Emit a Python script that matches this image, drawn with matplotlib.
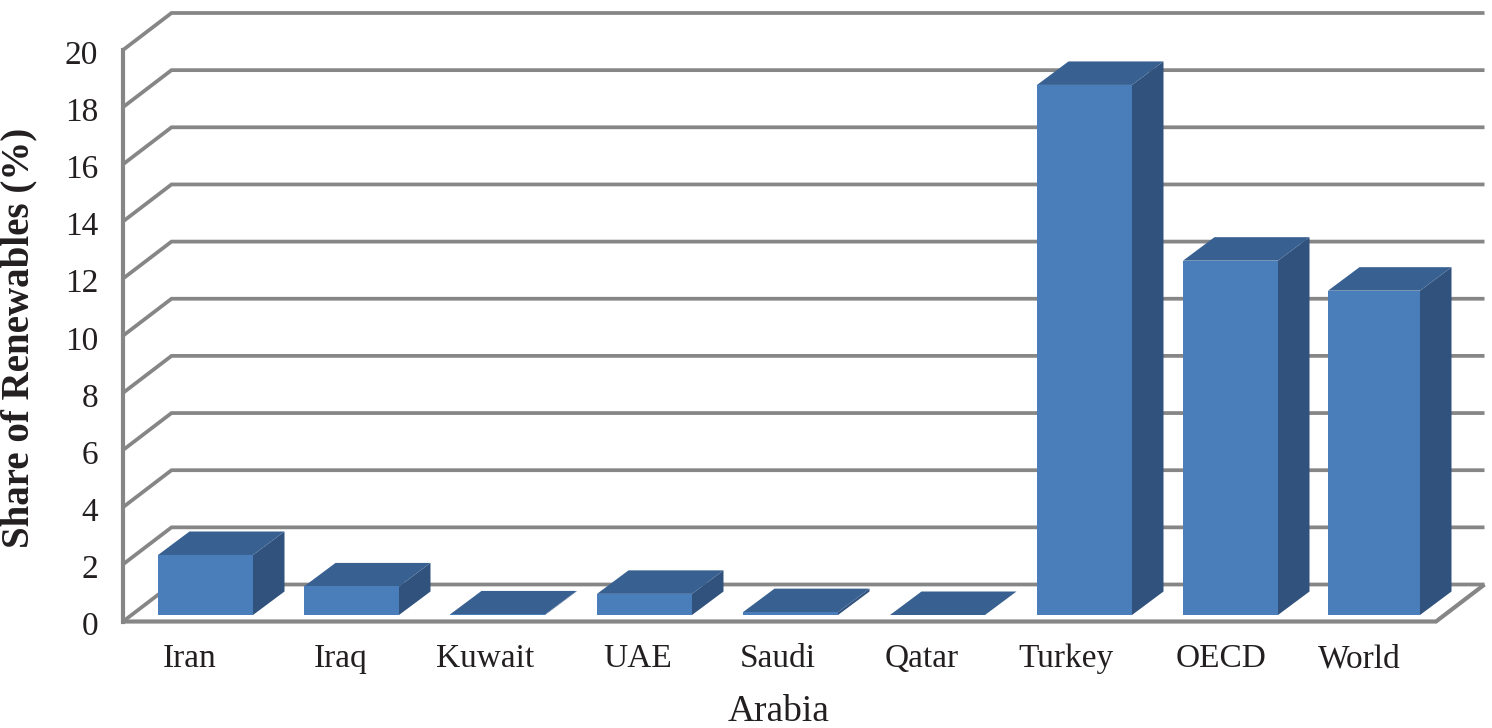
import matplotlib
matplotlib.use("Agg")
import matplotlib.pyplot as plt
from matplotlib.patches import Polygon
from matplotlib.transforms import ScaledTranslation

categories = ["Iran", "Iraq", "Kuwait", "UAE", "Saudi", "Qatar", "Turkey", "OECD", "World"]
shares = [2.1, 1.0, 0.02, 0.74, 0.1, 0.0, 18.55, 12.4, 11.35]
y_ticks = list(range(0, 21, 2))

W, H = 1492, 728
plt.rcParams["font.family"] = ["Liberation Serif", "DejaVu Serif"]
fig = plt.figure(figsize=(W / 100, H / 100), dpi=100)

# axes = front plane of the 3D box
L, R, B, T = 123, 1436, 621.5, 50
ax = fig.add_axes([L / W, 1 - B / H, (R - L) / W, (B - T) / H])
ppu_x = 146.3            # pixels per category
x0_px = 205.5            # centre of first bar
ax.set_xlim((L - x0_px) / ppu_x, (R - x0_px) / ppu_x)
ax.set_ylim(0, 20)
ppu_y = (B - T) / 20

GRID = "#868686"
FRONT = "#4a7ebb"
TOP = "#386192"
SIDE = "#30527c"
INK = "#231f20"

wall_dx, wall_dy = 48.5 / ppu_x, 37 / ppu_y
bar_dx, bar_dy = 31.5 / ppu_x, 23.5 / ppu_y
floor_dy = 6.5 / ppu_y
bar_px = [95, 95, 95, 95, 95, 95, 95, 95, 92]
bar_left_px = [158, 304, 450, 597, 743, 890, 1037, 1183, 1328]
label_px = [190, 340.5, 485, 638, 778, 922, 1066, 1221, 1359]

xl, xr = ax.get_xlim()
for v in y_ticks:
    ax.plot([xl, xl + wall_dx, xr + wall_dx], [v, v + wall_dy, v + wall_dy],
            color=GRID, lw=2.7, clip_on=False, solid_joinstyle="miter",
            solid_capstyle="butt", zorder=1)
ax.plot([xl, xl], [0, 20], color=GRID, lw=3.0, clip_on=False, zorder=1.5)
ax.plot([xl, xr, xr + wall_dx], [0, 0, wall_dy], color=GRID, lw=3.0, clip_on=False,
        solid_joinstyle="miter", solid_capstyle="butt", zorder=1.5)

for left, width, v in zip(bar_left_px, bar_px, shares):
    x1 = (left - x0_px) / ppu_x
    x2 = (left + width - x0_px) / ppu_x
    y1, y2 = floor_dy, floor_dy + v
    ax.add_patch(Polygon([(x2, y1), (x2 + bar_dx, y1 + bar_dy), (x2 + bar_dx, y2 + bar_dy), (x2, y2)],
                         fc=SIDE, ec="none", clip_on=False, zorder=3))
    ax.add_patch(Polygon([(x1, y2), (x2, y2), (x2 + bar_dx, y2 + bar_dy), (x1 + bar_dx, y2 + bar_dy)],
                         fc=TOP, ec="none", clip_on=False, zorder=3))
    ax.add_patch(Polygon([(x1, y1), (x2, y1), (x2, y2), (x1, y2)],
                         fc=FRONT, ec="none", clip_on=False, zorder=4))

for s in ax.spines.values():
    s.set_visible(False)
ax.set_xticks([(p - x0_px) / ppu_x for p in label_px])
ax.set_xticklabels(categories, fontsize=24, color=INK)
ax.set_yticks(y_ticks)
ax.set_yticklabels([str(v) for v in y_ticks], fontsize=24, color=INK)
ax.tick_params(axis="both", length=0)
ax.tick_params(axis="x", pad=16)
ax.tick_params(axis="y", pad=18)
shift = ScaledTranslation(0, -2 / 100, fig.dpi_scale_trans)
for lab in ax.get_yticklabels():
    lab.set_transform(lab.get_transform() + shift)
ax.patch.set_visible(False)

fig.text(779 / W, 1 - 712 / H, "Arabia", fontsize=27, ha="center", va="center", color=INK)
fig.text(19 / W, 1 - 338 / H, "Share of Renewables (%)", fontsize=28, fontweight="bold",
         rotation=90, ha="center", va="center", color=INK)

fig.savefig("out.png", dpi=100)
